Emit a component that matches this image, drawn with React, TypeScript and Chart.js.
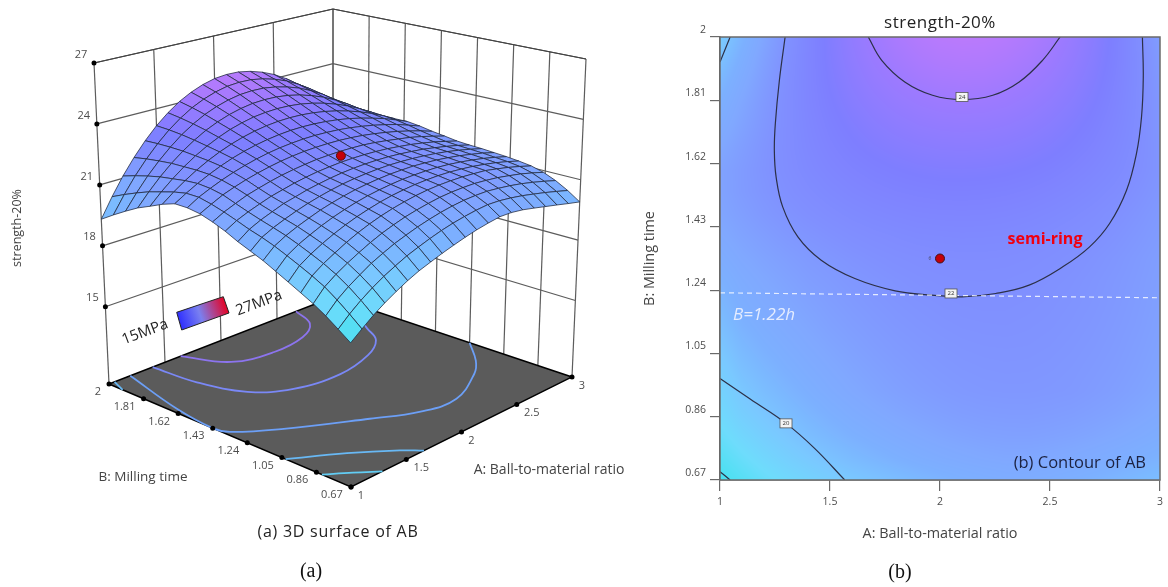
import React, { useEffect, useRef } from "react";
import { Chart, registerables } from "chart.js";

Chart.register(...registerables);

// ---------- data ----------
const zLevels = [15, 18, 21, 24, 27];
const aTicks = [1, 1.5, 2, 2.5, 3];
const bTicks = [0.67, 0.86, 1.05, 1.24, 1.43, 1.62, 1.81, 2];
const bTickLabels = ["0.67", "0.86", "1.05", "1.24", "1.43", "1.62", "1.81", "2"];
const aTickLabels = ["1", "1.5", "2", "2.5", "3"];
const designPoint = { a: 2, b: 1.335, z: 22.5 };

// strength-20%: rows run B = 0.67 → 2, columns A = 1 → 3 (20 cells each way)
const strength: number[][] = [
  [17.49,17.90,18.30,18.65,18.96,19.25,19.50,19.70,19.90,20.08,20.25,20.40,20.52,20.62,20.62,20.55,20.43,20.30,20.17,20.03,19.90],
  [17.90,18.37,18.78,19.14,19.46,19.74,20.00,20.21,20.41,20.59,20.74,20.86,20.96,21.03,21.02,20.96,20.87,20.75,20.62,20.47,20.31],
  [18.30,18.81,19.21,19.55,19.88,20.14,20.39,20.59,20.78,20.94,21.08,21.19,21.27,21.31,21.32,21.27,21.20,21.10,20.97,20.82,20.65],
  [18.65,19.21,19.58,19.90,20.19,20.46,20.70,20.90,21.08,21.22,21.34,21.44,21.50,21.53,21.54,21.50,21.44,21.34,21.23,21.08,20.91],
  [18.95,19.52,19.89,20.19,20.48,20.74,20.96,21.15,21.31,21.44,21.55,21.63,21.68,21.70,21.70,21.67,21.63,21.52,21.40,21.25,21.08],
  [19.25,19.80,20.15,20.44,20.70,20.93,21.13,21.30,21.45,21.57,21.66,21.73,21.77,21.79,21.78,21.74,21.68,21.59,21.48,21.34,21.17],
  [19.55,20.07,20.40,20.66,20.90,21.11,21.29,21.45,21.58,21.68,21.76,21.82,21.85,21.86,21.85,21.81,21.74,21.65,21.54,21.40,21.24],
  [19.85,20.33,20.63,20.87,21.08,21.28,21.44,21.58,21.70,21.79,21.86,21.91,21.93,21.94,21.91,21.87,21.80,21.71,21.59,21.46,21.29],
  [20.10,20.55,20.82,21.04,21.24,21.42,21.57,21.70,21.81,21.89,21.95,21.99,22.01,22.00,21.97,21.92,21.85,21.76,21.64,21.50,21.34],
  [20.35,20.74,21.00,21.21,21.42,21.56,21.71,21.82,21.92,22.00,22.05,22.08,22.09,22.08,22.04,21.98,21.91,21.80,21.68,21.54,21.37],
  [20.65,20.97,21.20,21.40,21.59,21.73,21.87,21.98,22.07,22.13,22.18,22.20,22.20,22.18,22.14,22.07,21.99,21.88,21.75,21.59,21.42],
  [20.90,21.19,21.42,21.64,21.80,21.95,22.08,22.18,22.26,22.33,22.36,22.38,22.37,22.35,22.29,22.21,22.11,22.01,21.87,21.70,21.52],
  [21.10,21.38,21.65,21.85,22.03,22.18,22.31,22.42,22.50,22.56,22.59,22.60,22.59,22.55,22.49,22.40,22.29,22.16,22.00,21.82,21.61],
  [21.20,21.53,21.78,22.01,22.21,22.38,22.53,22.65,22.74,22.80,22.84,22.85,22.83,22.79,22.72,22.62,22.50,22.35,22.18,21.96,21.73],
  [21.21,21.54,21.84,22.11,22.35,22.56,22.73,22.87,22.98,23.06,23.11,23.12,23.10,23.05,22.97,22.86,22.71,22.53,22.33,22.08,21.81],
  [21.00,21.42,21.80,22.14,22.44,22.70,22.92,23.10,23.24,23.34,23.40,23.42,23.40,23.34,23.24,23.10,22.92,22.70,22.44,22.14,21.80],
  [20.72,21.24,21.71,22.13,22.50,22.82,23.09,23.32,23.49,23.62,23.69,23.72,23.70,23.63,23.51,23.34,23.12,22.86,22.54,22.18,21.76],
  [20.45,21.06,21.62,22.12,22.56,22.94,23.27,23.53,23.74,23.89,23.99,24.02,24.00,23.92,23.78,23.58,23.33,23.01,22.64,22.21,21.73],
  [20.10,20.82,21.48,22.06,22.58,23.04,23.42,23.74,23.98,24.16,24.28,24.32,24.30,24.20,24.04,23.82,23.52,23.16,22.72,22.22,21.66],
  [19.72,20.55,21.31,21.98,22.58,23.11,23.55,23.92,24.20,24.41,24.55,24.60,24.58,24.47,24.29,24.04,23.70,23.29,22.79,22.22,21.58],
  [19.31,20.25,21.11,21.87,22.55,23.15,23.65,24.07,24.39,24.63,24.79,24.85,24.83,24.71,24.51,24.23,23.85,23.39,22.83,22.19,21.47],
];

// contour lines of the right plot as [A, B]
const contour24: number[][] = [[1.674,2],[1.735,1.93],[1.84,1.865],[1.966,1.825],[2.1,1.812],[2.24,1.825],[2.36,1.865],[2.466,1.93],[2.546,2]];
const contour22: number[][] = [[1.296,2],[1.27,1.87],[1.2515,1.74],[1.247,1.66],[1.255,1.58],[1.285,1.49],[1.354,1.4],[1.46,1.33],[1.613,1.275],[1.796,1.238],[1.963,1.225],[2.1,1.22],[2.253,1.23],[2.405,1.255],[2.558,1.31],[2.68,1.37],[2.771,1.44],[2.848,1.54],[2.893,1.65],[2.916,1.76],[2.924,1.88],[2.92,2]];
const contour20Top: number[][] = [[1,1.925],[1.046,2]];
const contour20: number[][] = [[1,0.975],[1.137,0.913],[1.3,0.84],[1.43,0.765],[1.567,0.67]];
const contour18: number[][] = [[1,0.695],[1.046,0.67]];
const dashedB: number[][] = [[1,1.232],[3,1.217]];
const contourLabels = [
  { a: 2.1, b: 1.82, text: "24" },
  { a: 2.05, b: 1.23, text: "22" },
  { a: 1.3, b: 0.84, text: "20" },
];

// contour lines projected on the floor of the 3D plot as [A, B]
const floorLine1: number[][] = [[1,0.83],[1.15,0.75],[1.285,0.67]];
const floorLine2: number[][] = [[1,1.03],[1.32,0.887],[1.567,0.745],[1.66,0.67]];
const floorLine3: number[][] = [[1.19,2],[1.044,1.654],[1,1.427],[1.037,1.358],[1.29,1.23],[1.77,1.036],[2.05,0.927],[2.33,0.9],[2.67,1.01],[2.82,1.094],[3,1.24]];
const floorLine4: number[][] = [[1.39,2],[1.42,1.775],[1.54,1.57],[1.77,1.457],[2.13,1.42],[2.456,1.468],[2.66,1.55],[2.76,1.66],[2.88,1.8],[2.9,2]];
const floorLine5: number[][] = [[1.64,2],[1.8,1.82],[2.1,1.767],[2.39,1.79],[2.58,1.867],[2.67,2]];
const floorLine6: number[][] = [[1,1.925],[1.05,2]];

// ---------- helpers ----------
const Z_FLOOR = 11.2;
const Z_TOP = 27;
const floorCorners = { f: [351, 487], r: [572, 377], l: [109, 384], b: [333, 297] };
const topCorners = { f: [350, 125], r: [586, 59], l: [94, 63], b: [333, 9] };

function bilin(c: any, a: number, b: number, k: number) {
  return (1 - a) * (1 - b) * c.f[k] + a * (1 - b) * c.r[k] + (1 - a) * b * c.l[k] + a * b * c.b[k];
}
function project(A: number, B: number, z: number) {
  const a = (A - 1) / 2;
  const b = (B - 0.67) / 1.33;
  const t = (z - Z_FLOOR) / (Z_TOP - Z_FLOOR);
  return {
    x: bilin(floorCorners, a, b, 0) * (1 - t) + bilin(topCorners, a, b, 0) * t,
    y: bilin(floorCorners, a, b, 1) * (1 - t) + bilin(topCorners, a, b, 1) * t,
  };
}

const colorStops: number[][] = [
  [17.5, 70, 225, 240],
  [18.5, 110, 220, 252],
  [19.5, 122, 200, 255],
  [20.4, 124, 176, 255],
  [21, 128, 168, 255],
  [22, 128, 144, 255],
  [23, 126, 126, 255],
  [24, 156, 122, 255],
  [24.9, 188, 122, 252],
];
function colorOf(z: number): number[] {
  if (z <= colorStops[0][0]) return colorStops[0].slice(1);
  for (let i = 1; i < colorStops.length; i++) {
    if (z <= colorStops[i][0]) {
      const p = colorStops[i - 1], q = colorStops[i];
      const t = (z - p[0]) / (q[0] - p[0]);
      return [1, 2, 3].map((k) => p[k] + (q[k] - p[k]) * t);
    }
  }
  return colorStops[colorStops.length - 1].slice(1);
}
function sampleStrength(A: number, B: number) {
  const x = Math.min(19.999, Math.max(0, ((A - 1) / 2) * 20));
  const y = Math.min(19.999, Math.max(0, ((B - 0.67) / 1.33) * 20));
  const i = Math.floor(x), j = Math.floor(y);
  const u = x - i, v = y - j;
  return (
    strength[j][i] * (1 - u) * (1 - v) +
    strength[j][i + 1] * u * (1 - v) +
    strength[j + 1][i] * (1 - u) * v +
    strength[j + 1][i + 1] * u * v
  );
}

const SANS = '"Open Sans", "Noto Sans", sans-serif';
function drawText(ctx: any, text: string, x: number, y: number, font: string, color: string, rot = 0, align = "center", spacing = "0px") {
  ctx.save();
  ctx.translate(x, y);
  ctx.rotate(rot);
  ctx.font = font;
  ctx.fillStyle = color;
  ctx.textAlign = align;
  ctx.textBaseline = "middle";
  ctx.letterSpacing = spacing;
  ctx.fillText(text, 0, 0);
  ctx.restore();
}

const toFloor = (pts: number[][]) => pts.map(([a, b]) => project(a, b, Z_FLOOR));
const wallLine = (pts: any[], order: number, color = "#5c5c5c", width = 1.2) => ({
  data: pts,
  showLine: true,
  borderColor: color,
  borderWidth: width,
  pointRadius: 0,
  order,
  clip: false,
});
const floorLine = (pts: number[][], color: string) => ({
  data: toFloor(pts),
  showLine: true,
  borderColor: color,
  borderWidth: 1.8,
  pointRadius: 0,
  tension: 0.4,
  order: 50,
  clip: false,
});

// ---------- left: 3D surface ----------
function leftConfig(): any {
  const datasets: any[] = [];
  // walls
  zLevels.concat([Z_TOP]).forEach((z) => {
    datasets.push(wallLine([project(1, 2, z), project(3, 2, z), project(3, 0.67, z)], 80, z === Z_TOP ? "#444" : "#5c5c5c"));
  });
  aTicks.forEach((a) => datasets.push(wallLine([project(a, 2, Z_FLOOR), project(a, 2, Z_TOP)], 80)));
  bTicks.forEach((b) => datasets.push(wallLine([project(3, b, Z_FLOOR), project(3, b, Z_TOP)], 80)));
  // floor edges
  datasets.push(wallLine([project(1, 2, Z_FLOOR), project(3, 2, Z_FLOOR), project(3, 0.67, Z_FLOOR), project(1, 0.67, Z_FLOOR), project(1, 2, Z_FLOOR)], 60, "#000", 1.4));
  // floor contours
  datasets.push(floorLine(floorLine1, "#62cdf4"));
  datasets.push(floorLine(floorLine2, "#68b8f4"));
  datasets.push(floorLine(floorLine3, "#6c9ff6"));
  datasets.push(floorLine(floorLine4, "#7a88f6"));
  datasets.push(floorLine(floorLine5, "#8c74ee"));
  datasets.push(floorLine(floorLine6, "#68b8f4"));
  // tick dots
  const dots = [
    ...zLevels.map((z) => project(1, 2, z)),
    ...bTicks.map((b) => project(1, b, Z_FLOOR)),
    ...aTicks.map((a) => project(a, 0.67, Z_FLOOR)),
  ];
  datasets.push({ data: dots, pointRadius: 2.5, pointBackgroundColor: "#000", pointBorderWidth: 0, showLine: false, order: 40, clip: false });
  // surface
  const grid: any[] = [];
  strength.forEach((row, j) =>
    row.forEach((z, i) => grid.push(project(1 + (i * 2) / 20, 0.67 + (j * 1.33) / 20, z)))
  );
  datasets.push({ label: "surface", data: grid, pointRadius: 0, showLine: false, order: 20, clip: false });
  // design point
  datasets.push({
    data: [project(designPoint.a, designPoint.b, designPoint.z)],
    pointRadius: 4.5,
    pointBackgroundColor: "#c40008",
    pointBorderColor: "#5a1010",
    pointBorderWidth: 1,
    showLine: false,
    order: 1,
    clip: false,
  });

  const surfacePlugin = {
    id: "surfacePlugin",
    beforeDatasetsDraw(chart: any) {
      const { ctx } = chart;
      const p = [project(1, 2, Z_FLOOR), project(3, 2, Z_FLOOR), project(3, 0.67, Z_FLOOR), project(1, 0.67, Z_FLOOR)];
      ctx.save();
      ctx.beginPath();
      p.forEach((q, i) => {
        const x = chart.scales.x.getPixelForValue(q.x), y = chart.scales.y.getPixelForValue(q.y);
        i ? ctx.lineTo(x, y) : ctx.moveTo(x, y);
      });
      ctx.closePath();
      ctx.fillStyle = "#5b5b5b";
      ctx.fill();
      ctx.restore();
    },
    beforeDatasetDraw(chart: any, args: any) {
      if (chart.data.datasets[args.index].label !== "surface") return;
      const { ctx } = chart;
      const pts = args.meta.data;
      const at = (i: number, j: number) => pts[j * 21 + i];
      ctx.save();
      ctx.lineWidth = 0.9;
      ctx.lineJoin = "round";
      for (let d = 38; d >= 0; d--) {
        for (let j = 19; j >= 0; j--) {
          const i = d - j;
          if (i < 0 || i > 19) continue;
          const m = (strength[j][i] + strength[j][i + 1] + strength[j + 1][i] + strength[j + 1][i + 1]) / 4;
          const c = colorOf(m);
          ctx.beginPath();
          [at(i, j), at(i + 1, j), at(i + 1, j + 1), at(i, j + 1)].forEach((q: any, k: number) =>
            k ? ctx.lineTo(q.x, q.y) : ctx.moveTo(q.x, q.y)
          );
          ctx.closePath();
          ctx.fillStyle = `rgb(${c[0] | 0},${c[1] | 0},${c[2] | 0})`;
          ctx.fill();
          ctx.strokeStyle = "rgba(30,40,60,0.85)";
          ctx.stroke();
        }
      }
      ctx.restore();
      return false;
    },
    afterDatasetsDraw(chart: any) {
      const { ctx } = chart;
      const tickFont = `11px ${SANS}`;
      const grey = "#4d4d4d";
      zLevels.forEach((z) => {
        const q = project(1, 2, z);
        drawText(ctx, String(z), q.x - 13, q.y - 8.5, tickFont, grey);
      });
      bTicks.forEach((b, i) => {
        const q = project(1, b, Z_FLOOR);
        drawText(ctx, bTickLabels[i], q.x + (b === 2 ? -11 : -19), q.y + 8, tickFont, grey);
      });
      aTicks.forEach((a, i) => {
        const q = project(a, 0.67, Z_FLOOR);
        drawText(ctx, aTickLabels[i], q.x + (i % 2 ? 15 : 10), q.y + 8.5, tickFont, grey);
      });
      drawText(ctx, "strength-20%", 17, 228, `12.5px ${SANS}`, "#444", -Math.PI / 2);
      drawText(ctx, "B: Milling time", 143, 477, `13.5px ${SANS}`, "#444");
      drawText(ctx, "A: Ball-to-material ratio", 549, 470, `14px ${SANS}`, "#444");
      drawText(ctx, "(a) 3D surface of AB", 338, 532, `16px ${SANS}`, "#222", 0, "center", "0.75px");
      drawText(ctx, "(a)", 311, 572, `20px "Liberation Serif", serif`, "#111");
      // colour key on the wall
      const g = ctx.createLinearGradient(178, 322, 227, 305);
      g.addColorStop(0, "#2a2aff");
      g.addColorStop(0.45, "#7a80f0");
      g.addColorStop(1, "#e80020");
      ctx.save();
      ctx.beginPath();
      ctx.moveTo(176.7, 312.3);
      ctx.lineTo(223.3, 296.7);
      ctx.lineTo(229, 313);
      ctx.lineTo(181.7, 330);
      ctx.closePath();
      ctx.fillStyle = g;
      ctx.fill();
      ctx.strokeStyle = "#222";
      ctx.lineWidth = 1;
      ctx.stroke();
      ctx.restore();
      drawText(ctx, "15MPa", 145, 332, `15px ${SANS}`, "#222", -0.36);
      drawText(ctx, "27MPa", 259, 303, `15px ${SANS}`, "#222", -0.36);
    },
  };

  return {
    type: "scatter",
    data: { datasets },
    options: {
      animation: false,
      responsive: false,
      events: [],
      layout: { padding: 0, autoPadding: false },
      plugins: { legend: { display: false }, tooltip: { enabled: false } },
      scales: {
        x: { type: "linear", display: false, min: 0, max: 640 },
        y: { type: "linear", display: false, min: 0, max: 587, reverse: true },
      },
    },
    plugins: [surfacePlugin],
  };
}

// ---------- right: contour ----------
function rightConfig(): any {
  const line = (pts: number[][]) => ({
    data: pts.map(([x, y]) => ({ x, y })),
    showLine: true,
    borderColor: "#2c3048",
    borderWidth: 1.2,
    pointRadius: 0,
    tension: 0.4,
    order: 10,
    clip: true,
  });
  const contourPlugin = {
    id: "contourPlugin",
    beforeDatasetsDraw(chart: any) {
      const { ctx, chartArea: ca, scales } = chart;
      const w = Math.round(ca.right - ca.left), h = Math.round(ca.bottom - ca.top);
      const off = document.createElement("canvas");
      off.width = w;
      off.height = h;
      const octx = off.getContext("2d") as CanvasRenderingContext2D;
      const img = octx.createImageData(w, h);
      for (let py = 0; py < h; py++) {
        const B = scales.y.getValueForPixel(ca.top + py + 0.5);
        for (let px = 0; px < w; px++) {
          const A = scales.x.getValueForPixel(ca.left + px + 0.5);
          const c = colorOf(sampleStrength(A, B));
          const k = (py * w + px) * 4;
          img.data[k] = c[0];
          img.data[k + 1] = c[1];
          img.data[k + 2] = c[2];
          img.data[k + 3] = 255;
        }
      }
      octx.putImageData(img, 0, 0);
      ctx.drawImage(off, ca.left, ca.top);
    },
    afterDatasetsDraw(chart: any) {
      const { ctx, chartArea: ca, scales } = chart;
      ctx.save();
      ctx.strokeStyle = "#6a6a6a";
      ctx.lineWidth = 1.5;
      ctx.strokeRect(ca.left, ca.top, ca.right - ca.left, ca.bottom - ca.top);
      contourLabels.forEach((l) => {
        const x = scales.x.getPixelForValue(l.a), y = scales.y.getPixelForValue(l.b);
        ctx.fillStyle = "#f4f4f4";
        ctx.strokeStyle = "#555";
        ctx.lineWidth = 0.8;
        ctx.fillRect(x - 6, y - 4.5, 12, 9);
        ctx.strokeRect(x - 6, y - 4.5, 12, 9);
        drawText(ctx, l.text, x, y, `6px ${SANS}`, "#333");
      });
      const dx = scales.x.getPixelForValue(designPoint.a), dy = scales.y.getPixelForValue(designPoint.b);
      drawText(ctx, "6", dx - 10, dy, `5px ${SANS}`, "#445");
      ctx.restore();
      const ox = -640;
      drawText(ctx, "strength-20%", 940 + ox, 23.5, `17px ${SANS}`, "#222", 0, "center", "0.5px");
      drawText(ctx, "semi-ring", 1045 + ox, 239, `bold 16px ${SANS}`, "#f00010");
      drawText(ctx, "B=1.22h", 764 + ox, 315, `italic 17px ${SANS}`, "#e4ecff");
      drawText(ctx, "(b) Contour of AB", 1146 + ox, 463, `16.5px ${SANS}`, "#1c2240", 0, "right");
      drawText(ctx, "(b)", 900 + ox, 573, `20px "Liberation Serif", serif`, "#111");
    },
  };
  const axisTick = { color: "#4d4d4d", font: { size: 10.5, family: SANS } };
  return {
    type: "scatter",
    data: {
      datasets: [
        line(contour24),
        line(contour22),
        line(contour20Top),
        line(contour20),
        line(contour18),
        {
          data: dashedB.map(([x, y]) => ({ x, y })),
          showLine: true,
          borderColor: "rgba(240,244,255,0.9)",
          borderWidth: 1.2,
          borderDash: [5, 4],
          pointRadius: 0,
          order: 5,
        },
        {
          data: [{ x: designPoint.a, y: designPoint.b }],
          pointRadius: 4.5,
          pointBackgroundColor: "#c40008",
          pointBorderColor: "#40141c",
          pointBorderWidth: 1,
          showLine: false,
          order: 1,
        },
      ],
    },
    options: {
      animation: false,
      responsive: false,
      events: [],
      layout: { padding: { top: 37, right: 6, left: 0, bottom: 0 }, autoPadding: false },
      plugins: { legend: { display: false }, tooltip: { enabled: false } },
      scales: {
        x: {
          type: "linear",
          min: 1,
          max: 3,
          afterFit: (s: any) => { s.height = 107; },
          afterBuildTicks: (s: any) => { s.ticks = aTicks.map((value) => ({ value })); },
          grid: { drawOnChartArea: false, tickLength: 11, color: "#6a6a6a", lineWidth: 1.2 },
          border: { color: "#6a6a6a", width: 1.5 },
          ticks: { ...axisTick, padding: 5, autoSkip: false, maxRotation: 0, callback: (v: number) => String(v) },
          title: { display: true, text: "A: Ball-to-material ratio", color: "#444", font: { size: 14.4, family: SANS }, padding: { top: 0, bottom: 44 } },
        },
        y: {
          type: "linear",
          min: 0.67,
          max: 2,
          afterFit: (s: any) => { s.width = 80; },
          afterBuildTicks: (s: any) => { s.ticks = bTicks.map((value) => ({ value })); },
          grid: { drawOnChartArea: false, tickLength: 10, color: "#6a6a6a", lineWidth: 1.2 },
          border: { color: "#6a6a6a", width: 1.5 },
          ticks: { ...axisTick, padding: 4, autoSkip: false, labelOffset: -7, callback: (v: number) => String(v) },
          title: { display: true, text: "B: Milling time", color: "#444", font: { size: 14.4, family: SANS }, padding: { top: 1, bottom: 0 } },
        },
      },
    },
    plugins: [contourPlugin],
  };
}

export default function App() {
  const leftRef = useRef<HTMLCanvasElement | null>(null);
  const rightRef = useRef<HTMLCanvasElement | null>(null);
  useEffect(() => {
    document.body.style.margin = "0";
    document.body.style.background = "#fff";
    const a = new Chart(leftRef.current as HTMLCanvasElement, leftConfig());
    const b = new Chart(rightRef.current as HTMLCanvasElement, rightConfig());
    return () => {
      a.destroy();
      b.destroy();
    };
  }, []);
  return (
    <div style={{ position: "relative", width: 1168, height: 587, overflow: "hidden" }}>
      <canvas ref={leftRef} width={640} height={587} style={{ position: "absolute", left: 0, top: 0, filter: "blur(0.35px)" }} />
      <canvas ref={rightRef} width={528} height={587} style={{ position: "absolute", left: 640, top: 0, filter: "blur(0.35px)" }} />
    </div>
  );
}
